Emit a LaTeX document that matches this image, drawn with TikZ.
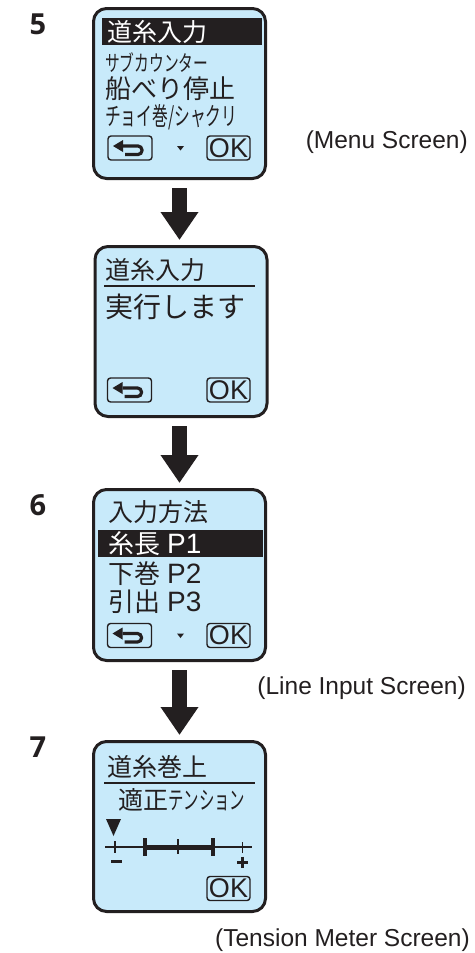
\documentclass[tikz,border=0pt]{standalone}
\usepackage{fontspec}
\usepackage{graphicx}
\setmainfont{Liberation Sans}
\newfontfamily\jpfont{Noto Sans CJK JP}
\newfontfamily\numfont{Open Sans}
\usetikzlibrary{arrows.meta}
\definecolor{lcdblue}{RGB}{200,234,250}
\definecolor{ink}{RGB}{35,31,32}
\newcommand{\squeeze}[2]{\resizebox{#1}{\height}{#2}}

\begin{document}
\begin{tikzpicture}[x=1pt, y=-1pt,
    screen/.style={draw=ink, fill=lcdblue, line width=3pt, rounded corners=13pt, minimum width=172pt, minimum height=170pt, inner sep=0pt},
    lcd/.style={anchor=west, inner sep=0pt, text=ink, font=\jpfont\fontsize{25}{25}\selectfont},
    key/.style={draw=ink, line width=1.4pt, rounded corners=3pt, minimum width=44pt, minimum height=24pt, inner sep=0pt},
    okkey/.style={key, minimum width=43pt, text=ink, font=\fontsize{27}{27}\selectfont},
    backline/.style={draw=ink, line width=3.2pt, rounded corners=4pt},
    flow/.style={ink, line width=15pt, -{Triangle[width=36pt, length=28pt]}, shorten <=8pt, shorten >=5pt},
    stepno/.style={text=ink, font=\numfont\bfseries\fontsize{29}{29}\selectfont},
    caption/.style={anchor=east, inner sep=0pt, text=ink, font=\fontsize{24.5}{24.5}\selectfont},
]
\useasboundingbox (0,0) rectangle (474,953);

% Step numbers
\node[stepno] (s5) at (38,24) {5};
\node[stepno] (s6) at (38,505) {6};
\node[stepno] (s7) at (38,747) {7};

% Four screens
\node[screen] (menu) at (179.5,93.5) {};
\node[screen] (confirm) at (181,331.5) {};
\node[screen, minimum height=171pt] (input) at (179.5,575) {};
\node[screen] (tension) at (179.5,826.5) {};

% Menu screen
\fill[ink] (102,18) rectangle (262,45);
\node[lcd, text=white] (m1) at (107,31.5) {道糸入力};
\node[lcd, font=\jpfont\fontsize{22}{22}\selectfont] (m2) at (105,62.5) {\squeeze{103pt}{サブカウンター}};
\node[lcd, font=\jpfont\fontsize{26}{26}\selectfont] (m3) at (105,88.5) {船べり停止};
\node[lcd, font=\jpfont\fontsize{25}{25}\selectfont] (m4) at (105,117) {\squeeze{132pt}{チョイ巻/シャクリ}};
\node[key] (bk1) at (130,148) {};
\fill[ink] (177,146) -- (184,146) -- (180.5,150.5) -- cycle;
\node[okkey] (ok1) at (228.5,148) {OK};

% Confirm screen
\node[lcd] (c1) at (105,270) {道糸入力};
\draw[ink, line width=1.3pt] (104,286) -- (255,286);
\node[lcd, font=\jpfont\fontsize{28}{28}\selectfont] (c2) at (105,306.5) {実行します};
\node[key] (bk2) at (129.5,390) {};
\node[okkey] (ok2) at (228.5,390) {OK};

% Line input screen
\node[lcd] (i1) at (108,512.5) {入力方法};
\fill[ink] (98,530) rectangle (263,557);
\node[lcd, text=white, font=\jpfont\fontsize{26}{26}\selectfont] (i2) at (108,543.5) {糸長\hspace{7pt}{\normalfont\fontsize{28}{28}\selectfont P1}};
\node[lcd, font=\jpfont\fontsize{26}{26}\selectfont] (i3) at (108,573.5) {下巻\hspace{7pt}{\normalfont\fontsize{28}{28}\selectfont P2}};
\node[lcd, font=\jpfont\fontsize{26}{26}\selectfont] (i4) at (108,601.5) {引出\hspace{7pt}{\normalfont\fontsize{28}{28}\selectfont P3}};
\node[key] (bk3) at (129.5,635.5) {};
\fill[ink] (177,633.5) -- (184,633.5) -- (180.5,638) -- cycle;
\node[okkey] (ok3) at (228.5,635.5) {OK};

% Tension meter screen
\node[lcd] (t1) at (107,766.5) {道糸巻上};
\draw[ink, line width=1.3pt] (104,783) -- (255,783);
\node[lcd] (t2) at (118,799.5) {適正\squeeze{77pt}{テンション}};
\fill[ink] (106,819) -- (121,819) -- (113.5,836) -- cycle;
\draw[ink, line width=1.2pt] (105,847) -- (252,847);
\draw[ink, line width=1.4pt] (115,841) -- (115,853) (242.5,842) -- (242.5,853) (178,839) -- (178,854);
\draw[ink, line width=5pt] (145,847) -- (213,847);
\draw[ink, line width=4pt] (145,838) -- (145,856) (213,838) -- (213,856);
\draw[ink, line width=3pt] (111,861) -- (122,861);
\draw[ink, line width=3pt] (237,862) -- (248,862) (242.5,856.5) -- (242.5,867.5);
\node[okkey] (ok4) at (228.5,888.5) {OK};

% Return marks on the back keys
\foreach \k in {bk1,bk2,bk3} {
  \draw[backline, shift={(\k.center)}] (-7,-2) -- (12,-2) -- (12,6.5) -- (-5,6.5);
  \fill[ink, shift={(\k.center)}] (-17,-2) -- (-7,-8) -- (-7,4) -- cycle;
}

% Arrows between screens
\draw[flow] (menu.south) -- (menu.south |- confirm.north);
\draw[flow] (input.north |- confirm.south) -- (input.north);
\draw[flow] (input.south) -- (tension.north);

% Captions
\node[caption] (capmenu) at (468,142) {(Menu Screen)};
\node[caption] (capinput) at (466,688) {(Line Input Screen)};
\node[caption] (captension) at (470,940) {(Tension Meter Screen)};
\end{tikzpicture}
\end{document}
